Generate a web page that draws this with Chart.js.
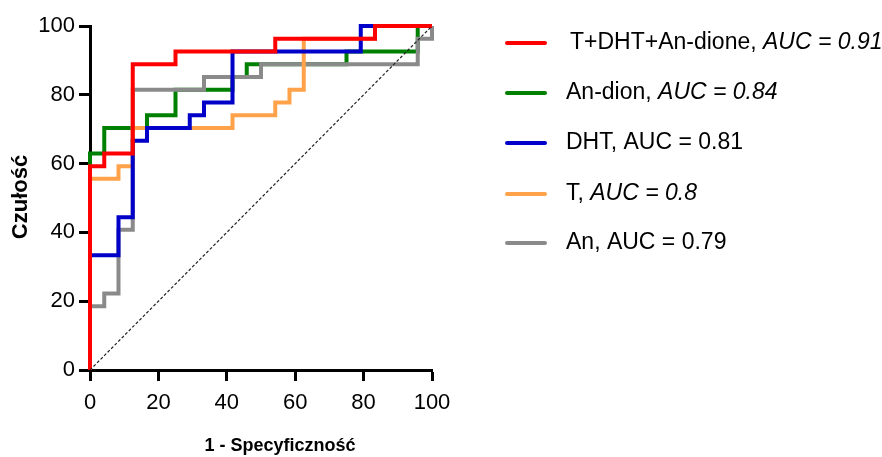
<!DOCTYPE html>
<html>
<head>
<meta charset="utf-8">
<script src="https://cdn.jsdelivr.net/npm/chart.js@4.4.0/dist/chart.umd.min.js"></script>
<style>
html,body{margin:0;padding:0;background:#fff;}
#wrap{width:882px;height:457px;position:relative;}
</style>
</head>
<body>
<div id="wrap"><canvas id="c" width="882" height="457"></canvas></div>
<script>
// ROC curves: x = 1 - specificity (%), y = sensitivity (%)
const redX    = [0, 0,     4.17,  4.17,  12.5,  12.5,  25,    25,    54.17, 54.17, 83.33, 83.33, 100];
const redY    = [0, 59.26, 59.26, 62.96, 62.96, 88.89, 88.89, 92.59, 92.59, 96.30, 96.30, 100,   100];

const greenX  = [0, 0,     4.17,  4.17,  16.67, 16.67, 25,    25,    41.67, 41.67, 45.83, 45.83, 75,    75,    95.83, 95.83, 100];
const greenY  = [0, 62.96, 62.96, 70.37, 70.37, 74.07, 74.07, 81.48, 81.48, 85.19, 85.19, 88.89, 88.89, 92.59, 92.59, 100,   100];

const blueX   = [0, 0,     8.33,  8.33,  12.5,  12.5,  16.67, 16.67, 29.17, 29.17, 33.33, 33.33, 41.67, 41.67, 79.17, 79.17, 100];
const blueY   = [0, 33.33, 33.33, 44.44, 44.44, 66.67, 66.67, 70.37, 70.37, 74.07, 74.07, 77.78, 77.78, 92.59, 92.59, 100,   100];

const orangeX = [0, 0,     8.33,  8.33,  12.5,  12.5,  41.67, 41.67, 54.17, 54.17, 58.33, 58.33, 62.5,  62.5,  83.33, 83.33, 100];
const orangeY = [0, 55.56, 55.56, 59.26, 59.26, 70.37, 70.37, 74.07, 74.07, 77.78, 77.78, 81.48, 81.48, 96.30, 96.30, 100,   100];

const greyX   = [0, 0,     4.17,  4.17,  8.33,  8.33,  12.5,  12.5,  33.33, 33.33, 50,    50,    95.83, 95.83, 100,   100];
const greyY   = [0, 18.52, 18.52, 22.22, 22.22, 40.74, 40.74, 81.48, 81.48, 85.19, 85.19, 88.89, 88.89, 96.30, 96.30, 100];

const refX = [0, 100];
const refY = [0, 100];

const xTicks = [0, 20, 40, 60, 80, 100];
const yTicks = [0, 20, 40, 60, 80, 100];

const seriesNames = ['T+DHT+An-dione', 'An-dion', 'DHT', 'T', 'An'];
const aucLabels   = ['AUC = 0.91', 'AUC = 0.84', 'AUC = 0.81', 'AUC = 0.8', 'AUC = 0.79'];
const aucItalic   = [true, true, false, true, false];
const xTitle = '1 - Specyficzność';
const yTitle = 'Czułość';

const colors = ['#ff0000', '#008000', '#0000c8', '#ffa24a', '#8a8a8a'];

function pts(xs, ys){ return xs.map((x,i)=>({x:x, y:ys[i]})); }

const seriesData = [pts(redX,redY), pts(greenX,greenY), pts(blueX,blueY), pts(orangeX,orangeY), pts(greyX,greyY)];
const drawOrder = [1, 5, 2, 3, 4];

const datasets = seriesData.map((d,i)=>({
  label: seriesNames[i] + ', ' + aucLabels[i],
  data: d,
  borderColor: colors[i],
  backgroundColor: colors[i],
  borderWidth: 4,
  pointRadius: 0,
  tension: 0,
  fill: false,
  clip: false,
  borderJoinStyle: 'miter',
  borderCapStyle: 'butt',
  order: drawOrder[i]
}));
datasets.push({
  label: 'ref',
  data: pts(refX, refY),
  borderColor: '#222222',
  borderWidth: 1.2,
  borderDash: [3, 2],
  pointRadius: 0,
  fill: false,
  clip: false,
  order: 0
});

const FONT = '"Liberation Sans", Arial, sans-serif';

const extras = {
  id: 'extras',
  afterDraw(chart){
    const ctx = chart.ctx;
    ctx.save();
    // axis titles
    ctx.fillStyle = '#000';
    ctx.font = 'bold 18px ' + FONT;
    ctx.textAlign = 'center';
    ctx.textBaseline = 'middle';
    ctx.fillText(xTitle, 280, 446);
    ctx.save();
    ctx.translate(21, 197);
    ctx.rotate(-Math.PI/2);
    ctx.font = 'bold 22px ' + FONT;
    ctx.fillText(yTitle, 0, 0);
    ctx.restore();
    // legend
    const rowY = [43, 93, 143, 194, 243];
    for (let i=0;i<seriesNames.length;i++){
      const y = rowY[i];
      ctx.strokeStyle = colors[i];
      ctx.lineWidth = 4;
      ctx.lineCap = 'round';
      ctx.beginPath();
      ctx.moveTo(507, y);
      ctx.lineTo(545, y);
      ctx.stroke();
      ctx.textAlign = 'left';
      ctx.textBaseline = 'middle';
      ctx.fillStyle = '#000';
      let x = i === 0 ? 570 : 566;
      ctx.font = '23px ' + FONT;
      const first = seriesNames[i] + ', ';
      ctx.fillText(first, x, y);
      x += ctx.measureText(first).width;
      ctx.font = (aucItalic[i] ? 'italic ' : '') + '23px ' + FONT;
      ctx.fillText(aucLabels[i], x, y);
    }
    ctx.restore();
  }
};

new Chart(document.getElementById('c'), {
  type: 'line',
  data: { datasets },
  options: {
    responsive: false,
    animation: false,
    events: [],
    layout: { padding: { left: 0, right: 450, top: 26, bottom: 0 } },
    plugins: { legend: { display: false }, tooltip: { enabled: false } },
    scales: {
      x: {
        type: 'linear', min: 0, max: 100,
        afterFit(s){ s.height = 87; },
        afterBuildTicks(s){ s.ticks = xTicks.map(v=>({value:v})); },
        grid: { drawOnChartArea: false, drawTicks: true, tickLength: 11, tickWidth: 3, tickColor: '#000' },
        border: { display: true, color: '#000', width: 3 },
        ticks: { color: '#000', font: { family: FONT, size: 22 }, padding: 9, maxRotation: 0 }
      },
      y: {
        type: 'linear', min: 0, max: 100,
        afterFit(s){ s.width = 90; },
        afterBuildTicks(s){ s.ticks = yTicks.map(v=>({value:v})); },
        grid: { drawOnChartArea: false, drawTicks: true, tickLength: 11, tickWidth: 3, tickColor: '#000' },
        border: { display: true, color: '#000', width: 3 },
        ticks: { color: '#000', font: { family: FONT, size: 22 }, padding: 4 }
      }
    }
  },
  plugins: [extras]
});
</script>
</body>
</html>
